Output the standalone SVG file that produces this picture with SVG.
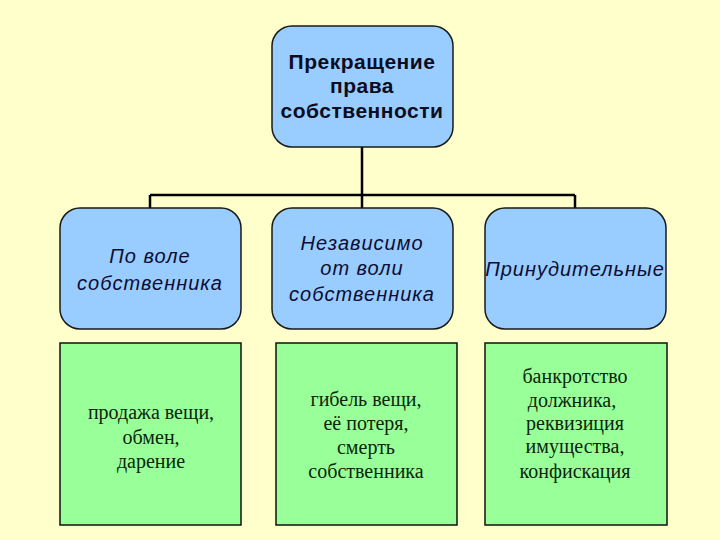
<svg xmlns="http://www.w3.org/2000/svg" width="720" height="540" viewBox="0 0 720 540">
<style>
.bg{fill:#ffffcc}
.blue{fill:#99ccff;stroke:#1a1a1a;stroke-width:1.5}
.green{fill:#99ff99;stroke:#111;stroke-width:1.5}
.conn{stroke:#000;stroke-width:2.5;fill:none}
.t1{font-family:"Liberation Sans",Arial,sans-serif;font-size:21px;font-weight:bold;letter-spacing:0.5px;fill:#0d0d1f;text-anchor:middle}
.t2{font-family:"Liberation Sans",Arial,sans-serif;font-size:20px;font-style:italic;letter-spacing:1px;fill:#0d0d33;text-anchor:middle}
.t3{font-family:"Liberation Serif","Times New Roman",serif;font-size:20px;fill:#0a260a;text-anchor:middle}
</style>
<rect class="bg" x="0" y="0" width="720" height="540"/>
<g id="connectors">
<path class="conn" d="M362,147 V195 M150,195 H575 M150,195 V208 M362,195 V208 M575,195 V208"/>
</g>
<g id="root">
<rect class="blue" x="272" y="26" width="181" height="121" rx="20"/>
<text class="t1" x="362" y="69">Прекращение</text>
<text class="t1" x="362" y="93">права</text>
<text class="t1" x="362" y="118">собственности</text>
</g>
<g id="n1">
<rect class="blue" x="60" y="208" width="181" height="121" rx="20"/>
<text class="t2" x="150" y="263">По воле</text>
<text class="t2" x="150" y="290">собственника</text>
</g>
<g id="n2">
<rect class="blue" x="272" y="208" width="181" height="121" rx="20"/>
<text class="t2" x="362" y="250">Независимо</text>
<text class="t2" x="362" y="275">от воли</text>
<text class="t2" x="362" y="301">собственника</text>
</g>
<g id="n3">
<rect class="blue" x="485" y="208" width="181" height="121" rx="20"/>
<text class="t2" x="575" y="276">Принудительные</text>
</g>
<g id="g1">
<rect class="green" x="60" y="343" width="181" height="182"/>
<text class="t3" x="151" y="419">продажа вещи,</text>
<text class="t3" x="151" y="444">обмен,</text>
<text class="t3" x="151" y="468">дарение</text>
</g>
<g id="g2">
<rect class="green" x="276" y="343" width="181" height="182"/>
<text class="t3" x="366" y="406">гибель вещи,</text>
<text class="t3" x="366" y="430">её потеря,</text>
<text class="t3" x="366" y="454">смерть</text>
<text class="t3" x="366" y="478">собственника</text>
</g>
<g id="g3">
<rect class="green" x="485" y="343" width="182" height="182"/>
<text class="t3" x="575" y="383">банкротство</text>
<text class="t3" x="572" y="407">должника,</text>
<text class="t3" x="575" y="430">реквизиция</text>
<text class="t3" x="575" y="453">имущества,</text>
<text class="t3" x="575" y="478">конфискация</text>
</g>
</svg>
